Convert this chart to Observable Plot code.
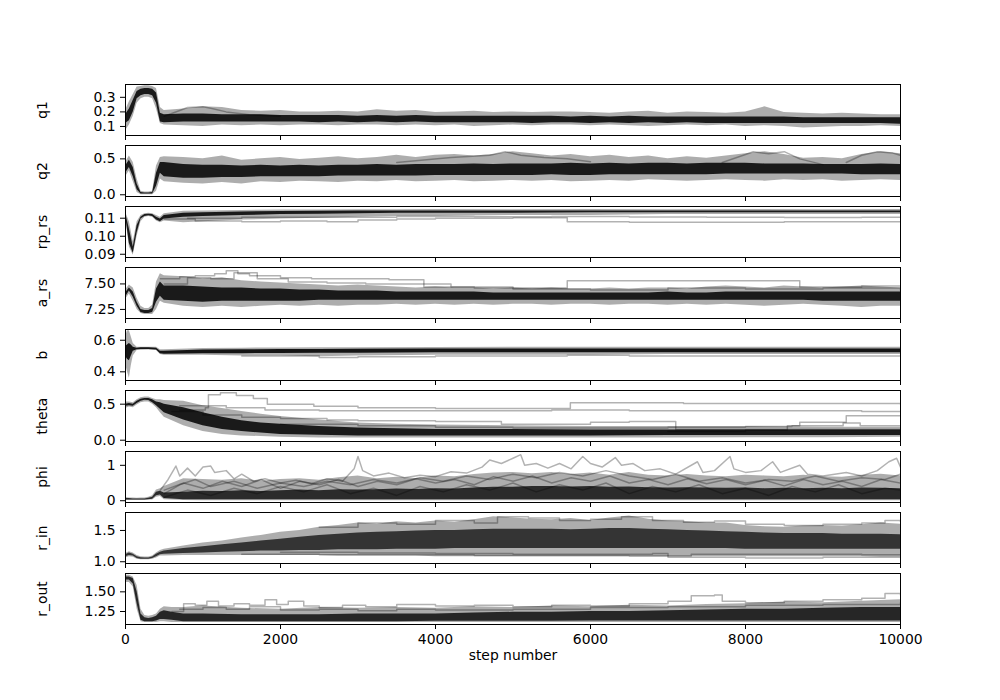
<!DOCTYPE html>
<html>
<head>
<meta charset="utf-8">
<script src="https://cdn.jsdelivr.net/npm/d3@7"></script>
<script src="https://cdn.jsdelivr.net/npm/@observablehq/plot@0.6"></script>
<style>
  html, body { margin: 0; padding: 0; background: #fff; }
  #chart { position: relative; width: 1000px; height: 700px; overflow: hidden; background: #fff; }
  #chart svg { position: absolute; left: 0; }
</style>
</head>
<body>
<div id="chart"></div>
<script>
// ---------------- data ----------------
const X_TICKS = [0, 2000, 4000, 6000, 8000, 10000];
const PARAMS = ["q1", "q2", "rp_rs", "a_rs", "b", "theta", "phi", "r_in", "r_out"];
const Y_DOMAINS = [[0.038, 0.388], [-0.024, 0.686], [0.0882, 0.1165], [7.161, 7.661], [0.345, 0.668],
                   [-0.018, 0.69], [-0.05, 1.39], [0.972, 1.787], [1.085, 1.733]];
const Y_TICKS = [[0.1, 0.2, 0.3], [0, 0.5], [0.09, 0.10, 0.11], [7.25, 7.5], [0.4, 0.6],
                 [0, 0.5], [0, 1], [1.0, 1.5], [1.25, 1.5]];
const Y_TICK_LABELS = [["0.1", "0.2", "0.3"], ["0.0", "0.5"], ["0.09", "0.10", "0.11"], ["7.25", "7.50"],
                       ["0.4", "0.6"], ["0.0", "0.5"], ["0", "1"], ["1.0", "1.5"], ["1.25", "1.50"]];

// walker envelopes: [step, outer low, dense low, dense high, outer high]
const q1Band = [
[0,0.07,0.12,0.18,0.21],[50,0.11,0.14,0.22,0.27],[100,0.17,0.20,0.28,0.32],[150,0.26,0.29,0.34,0.37],
[200,0.29,0.31,0.355,0.375],[250,0.30,0.32,0.36,0.38],[300,0.30,0.32,0.36,0.38],[350,0.29,0.31,0.355,0.375],
[400,0.22,0.26,0.33,0.36],[450,0.12,0.13,0.19,0.23],[500,0.11,0.125,0.18,0.21],[750,0.105,0.13,0.185,0.22],
[1000,0.10,0.13,0.185,0.235],[1250,0.11,0.13,0.18,0.23],[1500,0.105,0.13,0.18,0.21],[1750,0.11,0.13,0.18,0.205],
[2000,0.105,0.13,0.175,0.21],[2250,0.11,0.13,0.175,0.20],[2500,0.11,0.125,0.175,0.20],[2750,0.105,0.13,0.175,0.205],
[3000,0.11,0.125,0.17,0.20],[3250,0.11,0.13,0.175,0.215],[3500,0.105,0.125,0.17,0.205],[3750,0.11,0.13,0.175,0.21],
[4000,0.105,0.125,0.17,0.195],[4250,0.11,0.125,0.17,0.20],[4500,0.10,0.125,0.17,0.205],[4750,0.105,0.125,0.17,0.195],
[5000,0.11,0.125,0.17,0.20],[5250,0.105,0.12,0.17,0.195],[5500,0.11,0.125,0.17,0.20],[5750,0.11,0.125,0.165,0.20],
[6000,0.105,0.12,0.17,0.195],[6250,0.11,0.125,0.165,0.19],[6500,0.105,0.12,0.17,0.20],[6750,0.10,0.125,0.165,0.205],
[7000,0.105,0.12,0.165,0.19],[7250,0.11,0.125,0.165,0.20],[7500,0.105,0.12,0.165,0.195],[7750,0.11,0.12,0.165,0.19],
[8000,0.10,0.12,0.165,0.20],[8250,0.105,0.12,0.165,0.235],[8500,0.10,0.12,0.165,0.195],[8750,0.09,0.12,0.16,0.19],
[9000,0.095,0.12,0.16,0.185],[9250,0.10,0.12,0.16,0.19],[9500,0.10,0.12,0.16,0.185],[9750,0.105,0.12,0.16,0.18],
[10000,0.10,0.115,0.16,0.18]];
const q2Band = [
[0,0.25,0.30,0.40,0.45],[50,0.33,0.38,0.48,0.54],[100,0.18,0.25,0.38,0.45],[150,0.03,0.07,0.15,0.22],
[200,0.0,0.01,0.03,0.05],[250,0.0,0.01,0.025,0.04],[300,0.0,0.01,0.025,0.04],[350,0.0,0.01,0.03,0.05],
[400,0.05,0.12,0.30,0.40],[450,0.22,0.30,0.45,0.52],[500,0.18,0.25,0.45,0.53],[750,0.16,0.23,0.42,0.52],
[1000,0.15,0.23,0.41,0.50],[1250,0.17,0.24,0.41,0.54],[1500,0.15,0.24,0.40,0.48],[1750,0.18,0.25,0.41,0.50],
[2000,0.17,0.25,0.40,0.52],[2250,0.19,0.25,0.41,0.49],[2500,0.18,0.25,0.40,0.51],[2750,0.17,0.26,0.41,0.53],
[3000,0.19,0.26,0.41,0.50],[3250,0.18,0.26,0.42,0.52],[3500,0.20,0.26,0.41,0.55],[3750,0.18,0.26,0.42,0.52],
[4000,0.19,0.27,0.42,0.55],[4250,0.20,0.27,0.42,0.56],[4500,0.18,0.27,0.43,0.54],[4750,0.19,0.27,0.42,0.56],
[5000,0.20,0.27,0.43,0.60],[5250,0.19,0.27,0.43,0.57],[5500,0.20,0.28,0.43,0.54],[5750,0.18,0.27,0.44,0.56],
[6000,0.19,0.27,0.43,0.53],[6250,0.20,0.28,0.44,0.55],[6500,0.19,0.28,0.43,0.52],[6750,0.21,0.28,0.44,0.54],
[7000,0.20,0.28,0.44,0.50],[7250,0.19,0.28,0.43,0.53],[7500,0.20,0.28,0.44,0.51],[7750,0.21,0.29,0.44,0.54],
[8000,0.20,0.29,0.44,0.57],[8250,0.19,0.29,0.43,0.60],[8500,0.21,0.29,0.43,0.56],[8750,0.20,0.29,0.43,0.51],
[9000,0.21,0.29,0.42,0.52],[9250,0.19,0.29,0.42,0.50],[9500,0.20,0.28,0.42,0.56],[9750,0.21,0.28,0.43,0.60],
[10000,0.20,0.28,0.42,0.57]];
const rpBand = [
[0,0.111,0.1115,0.113,0.1135],[50,0.094,0.096,0.104,0.108],[100,0.0895,0.0905,0.094,0.097],[150,0.100,0.102,0.106,0.108],
[200,0.108,0.1095,0.1105,0.1115],[250,0.1105,0.111,0.112,0.1125],[300,0.111,0.1113,0.1122,0.1128],[350,0.1105,0.111,0.112,0.1125],
[400,0.1085,0.109,0.1105,0.1115],[450,0.1075,0.108,0.1095,0.1105],[500,0.1085,0.1095,0.1115,0.1125],[750,0.1075,0.1105,0.1128,0.1138],
[1000,0.108,0.111,0.113,0.114],[1500,0.109,0.1115,0.1135,0.1143],[2000,0.1095,0.112,0.1137,0.1145],[2500,0.110,0.1122,0.1138,0.1146],
[3000,0.1105,0.1125,0.114,0.1147],[3500,0.111,0.1127,0.114,0.1147],[4000,0.111,0.1128,0.114,0.1148],[5000,0.1115,0.1128,0.114,0.1147],
[6000,0.1115,0.113,0.114,0.1148],[7000,0.112,0.113,0.114,0.1147],[8000,0.112,0.113,0.114,0.1148],[9000,0.112,0.113,0.114,0.1147],
[10000,0.112,0.113,0.114,0.1148]];
const aBand = [
[0,7.35,7.37,7.41,7.44],[50,7.40,7.43,7.46,7.49],[100,7.33,7.37,7.42,7.46],[150,7.25,7.28,7.32,7.36],
[200,7.21,7.22,7.25,7.28],[250,7.20,7.21,7.24,7.26],[300,7.20,7.21,7.24,7.26],[350,7.20,7.22,7.26,7.29],
[400,7.25,7.32,7.45,7.52],[450,7.33,7.38,7.52,7.60],[500,7.31,7.34,7.48,7.58],[750,7.28,7.33,7.48,7.57],
[1000,7.27,7.32,7.47,7.55],[1250,7.28,7.33,7.46,7.56],[1500,7.27,7.33,7.46,7.53],[1750,7.28,7.33,7.45,7.52],
[2000,7.29,7.33,7.45,7.51],[2250,7.28,7.33,7.44,7.50],[2500,7.29,7.34,7.44,7.49],[2750,7.28,7.34,7.43,7.48],
[3000,7.29,7.34,7.43,7.49],[3250,7.29,7.34,7.43,7.48],[3500,7.30,7.34,7.42,7.47],[3750,7.29,7.34,7.42,7.46],
[4000,7.30,7.34,7.42,7.47],[4250,7.29,7.34,7.42,7.46],[4500,7.30,7.34,7.42,7.46],[4750,7.29,7.34,7.41,7.45],
[5000,7.30,7.34,7.41,7.46],[5250,7.30,7.34,7.41,7.45],[5500,7.29,7.34,7.41,7.46],[5750,7.30,7.34,7.41,7.45],
[6000,7.30,7.34,7.41,7.45],[6250,7.29,7.34,7.41,7.46],[6500,7.30,7.34,7.41,7.45],[6750,7.30,7.34,7.41,7.46],
[7000,7.29,7.34,7.42,7.46],[7250,7.30,7.34,7.41,7.45],[7500,7.29,7.34,7.41,7.47],[7750,7.30,7.34,7.42,7.48],
[8000,7.29,7.34,7.42,7.47],[8250,7.28,7.34,7.42,7.46],[8500,7.29,7.34,7.42,7.48],[8750,7.30,7.34,7.42,7.47],
[9000,7.29,7.33,7.42,7.46],[9250,7.28,7.33,7.42,7.47],[9500,7.27,7.33,7.42,7.48],[9750,7.28,7.33,7.42,7.47],
[10000,7.28,7.33,7.42,7.46]];
const bBand = [
[0,0.45,0.50,0.56,0.62],[25,0.40,0.48,0.57,0.66],[50,0.36,0.47,0.58,0.66],[75,0.44,0.50,0.57,0.62],
[100,0.50,0.53,0.555,0.58],[150,0.535,0.540,0.550,0.556],[200,0.537,0.542,0.552,0.556],[300,0.538,0.542,0.552,0.556],
[400,0.535,0.538,0.550,0.555],[450,0.51,0.515,0.53,0.54],[500,0.505,0.512,0.53,0.54],[1000,0.505,0.515,0.538,0.548],
[1500,0.50,0.515,0.54,0.55],[2000,0.50,0.516,0.541,0.551],[2500,0.495,0.517,0.542,0.552],[3000,0.50,0.518,0.543,0.553],
[4000,0.505,0.52,0.544,0.554],[5000,0.505,0.52,0.545,0.555],[6000,0.505,0.52,0.545,0.555],[7000,0.51,0.52,0.545,0.555],
[8000,0.51,0.52,0.545,0.555],[9000,0.51,0.52,0.545,0.555],[10000,0.51,0.52,0.545,0.555]];
const thetaBand = [
[0,0.44,0.47,0.50,0.53],[50,0.46,0.48,0.51,0.53],[100,0.45,0.47,0.50,0.52],[150,0.49,0.51,0.54,0.56],
[200,0.52,0.54,0.57,0.59],[250,0.53,0.555,0.58,0.60],[300,0.53,0.55,0.58,0.60],[350,0.50,0.52,0.56,0.58],
[400,0.45,0.48,0.53,0.56],[450,0.38,0.43,0.52,0.56],[500,0.32,0.38,0.50,0.55],[750,0.20,0.28,0.45,0.54],
[1000,0.12,0.20,0.38,0.48],[1250,0.08,0.15,0.32,0.44],[1500,0.06,0.12,0.27,0.40],[1750,0.05,0.10,0.24,0.36],
[2000,0.04,0.08,0.22,0.33],[2500,0.03,0.07,0.19,0.28],[3000,0.03,0.06,0.17,0.24],[3500,0.03,0.06,0.16,0.22],
[4000,0.03,0.06,0.15,0.21],[5000,0.03,0.06,0.15,0.20],[6000,0.03,0.06,0.14,0.19],[7000,0.03,0.065,0.14,0.19],
[8000,0.035,0.065,0.14,0.19],[9000,0.035,0.065,0.14,0.18],[10000,0.04,0.065,0.14,0.18]];
const phiBand = [
[0,0.01,0.02,0.06,0.09],[50,0.01,0.02,0.06,0.08],[100,0.01,0.02,0.05,0.08],[150,0.01,0.02,0.05,0.07],
[200,0.01,0.02,0.05,0.08],[250,0.01,0.02,0.05,0.08],[300,0.02,0.03,0.07,0.10],[350,0.02,0.04,0.10,0.14],
[400,0.10,0.14,0.24,0.30],[450,0.12,0.16,0.27,0.34],[500,0.03,0.06,0.22,0.40],[750,0.01,0.03,0.24,0.62],
[1000,0.0,0.03,0.27,0.60],[1250,0.0,0.03,0.26,0.58],[1500,0.0,0.03,0.28,0.62],[1750,0.0,0.03,0.26,0.55],
[2000,0.0,0.03,0.28,0.60],[2250,0.0,0.03,0.30,0.62],[2500,0.0,0.03,0.28,0.58],[2750,0.0,0.03,0.31,0.65],
[3000,0.0,0.03,0.30,0.70],[3250,0.0,0.03,0.31,0.62],[3500,0.0,0.03,0.33,0.66],[3750,0.0,0.03,0.32,0.63],
[4000,0.0,0.03,0.34,0.70],[4250,0.0,0.03,0.33,0.68],[4500,0.0,0.03,0.36,0.74],[4750,0.0,0.03,0.38,0.78],
[5000,0.0,0.03,0.38,0.80],[5250,0.0,0.03,0.40,0.76],[5500,0.0,0.03,0.40,0.80],[5750,0.0,0.03,0.39,0.74],
[6000,0.0,0.03,0.40,0.78],[6250,0.0,0.03,0.38,0.72],[6500,0.0,0.03,0.39,0.80],[6750,0.0,0.03,0.37,0.72],
[7000,0.0,0.03,0.36,0.70],[7250,0.0,0.03,0.37,0.74],[7500,0.0,0.03,0.36,0.70],[7750,0.0,0.03,0.35,0.68],
[8000,0.0,0.03,0.36,0.72],[8250,0.0,0.03,0.34,0.70],[8500,0.0,0.03,0.35,0.68],[8750,0.0,0.03,0.34,0.72],
[9000,0.0,0.03,0.35,0.68],[9250,0.0,0.03,0.34,0.66],[9500,0.0,0.03,0.36,0.72],[9750,0.0,0.03,0.35,0.75],
[10000,0.0,0.03,0.34,0.70]];
const rinBand = [
[0,1.06,1.08,1.11,1.13],[50,1.08,1.10,1.14,1.16],[100,1.07,1.09,1.12,1.14],[150,1.04,1.05,1.08,1.10],
[200,1.03,1.04,1.065,1.08],[250,1.03,1.04,1.06,1.075],[300,1.03,1.04,1.06,1.075],[350,1.04,1.05,1.075,1.09],
[400,1.06,1.08,1.12,1.14],[450,1.09,1.11,1.15,1.18],[500,1.09,1.12,1.17,1.20],[750,1.10,1.13,1.21,1.25],
[1000,1.10,1.14,1.24,1.30],[1250,1.10,1.15,1.27,1.33],[1500,1.10,1.16,1.30,1.38],[1750,1.10,1.17,1.33,1.42],
[2000,1.10,1.17,1.36,1.47],[2250,1.10,1.18,1.39,1.50],[2500,1.10,1.18,1.42,1.55],[2750,1.09,1.19,1.44,1.58],
[3000,1.09,1.19,1.46,1.62],[3250,1.09,1.19,1.47,1.60],[3500,1.09,1.20,1.48,1.64],[3750,1.09,1.20,1.49,1.62],
[4000,1.08,1.20,1.50,1.65],[4250,1.08,1.21,1.50,1.63],[4500,1.08,1.21,1.51,1.67],[4750,1.08,1.21,1.52,1.72],
[5000,1.08,1.21,1.52,1.70],[5250,1.08,1.21,1.52,1.68],[5500,1.08,1.21,1.52,1.67],[5750,1.08,1.21,1.51,1.69],
[6000,1.08,1.21,1.52,1.66],[6250,1.08,1.21,1.53,1.70],[6500,1.08,1.21,1.53,1.73],[6750,1.08,1.21,1.52,1.68],
[7000,1.08,1.21,1.51,1.65],[7250,1.08,1.21,1.50,1.64],[7500,1.08,1.21,1.49,1.62],[7750,1.08,1.21,1.48,1.62],
[8000,1.08,1.20,1.47,1.58],[8250,1.08,1.20,1.46,1.56],[8500,1.08,1.20,1.45,1.55],[8750,1.08,1.20,1.45,1.57],
[9000,1.08,1.20,1.45,1.58],[9250,1.08,1.20,1.44,1.57],[9500,1.08,1.20,1.44,1.59],[9750,1.07,1.20,1.44,1.62],
[10000,1.07,1.20,1.43,1.60]];
const routBand = [
[0,1.62,1.65,1.69,1.71],[50,1.62,1.65,1.69,1.71],[100,1.56,1.60,1.67,1.69],[150,1.28,1.35,1.50,1.58],
[200,1.12,1.14,1.22,1.28],[250,1.11,1.12,1.17,1.20],[300,1.11,1.12,1.16,1.19],[350,1.11,1.12,1.17,1.20],
[400,1.11,1.13,1.19,1.22],[450,1.12,1.15,1.24,1.28],[500,1.12,1.15,1.26,1.31],[600,1.11,1.14,1.24,1.30],
[750,1.11,1.12,1.22,1.30],[1000,1.11,1.12,1.22,1.32],[1500,1.11,1.12,1.21,1.29],[2000,1.11,1.12,1.21,1.28],
[2500,1.11,1.12,1.21,1.30],[3000,1.11,1.12,1.22,1.29],[3500,1.11,1.12,1.22,1.30],[4000,1.11,1.125,1.22,1.29],
[4500,1.11,1.125,1.23,1.31],[5000,1.11,1.125,1.24,1.30],[5500,1.11,1.125,1.24,1.32],[6000,1.11,1.13,1.25,1.31],
[6500,1.11,1.13,1.25,1.33],[7000,1.11,1.13,1.26,1.32],[7500,1.11,1.13,1.27,1.34],[8000,1.11,1.13,1.28,1.35],
[8500,1.11,1.13,1.28,1.37],[9000,1.11,1.13,1.29,1.36],[9500,1.11,1.13,1.30,1.38],[10000,1.11,1.13,1.30,1.40]];

// individual (outlying) walkers: [step, value]
const q1Walkers = [
  [[500,0.17],[700,0.21],[800,0.23],[1000,0.235],[1100,0.225],[1300,0.20],[1600,0.18],[2000,0.17]]
];
const q2Walkers = [
  [[3500,0.45],[4200,0.52],[4700,0.55],[4900,0.60],[5100,0.55],[5400,0.52],[5700,0.50],[6000,0.46]],
  [[7700,0.45],[8000,0.56],[8100,0.60],[8300,0.57],[8500,0.60],[8700,0.50],[9000,0.42]],
  [[9300,0.45],[9500,0.55],[9700,0.60],[9900,0.58],[10000,0.55]]
];
const rpWalkers = [
  [[500,0.1095],[900,0.1085],[1500,0.108],[2000,0.1085],[2600,0.108],[3000,0.109],[3500,0.1095],[4000,0.110],
   [5000,0.1103],[5650,0.1103],[5700,0.108],[6500,0.1078],[7500,0.1078],[8500,0.108],[10000,0.108]],
  [[800,0.110],[1500,0.1105],[2500,0.1105],[3500,0.111],[4500,0.1108],[5500,0.111],[6500,0.1107],[7500,0.1105],
   [8500,0.1104],[9500,0.1105],[10000,0.1105]]
];
const aWalkers = [
  [[450,7.55],[700,7.57],[900,7.58],[1150,7.60],[1300,7.63],[1450,7.60],[1600,7.58],[2000,7.56],[2400,7.55],
   [2700,7.55],[3000,7.55],[3400,7.54],[3850,7.47],[4500,7.46],[5000,7.46],[5700,7.53],[6500,7.53],[7500,7.53],
   [8700,7.47],[9500,7.48],[10000,7.48]],
  [[500,7.50],[800,7.56],[1100,7.55],[1400,7.61],[1700,7.55],[2100,7.52],[2600,7.51],[3100,7.50],[3600,7.50],
   [4200,7.47],[5000,7.45],[6000,7.44],[7000,7.46],[8000,7.45],[9000,7.46],[10000,7.44]]
];
const bWalkers = [
  [[1500,0.50],[2500,0.49],[3000,0.495],[4000,0.50],[5700,0.505],[6500,0.50],[8000,0.50],[10000,0.505]]
];
const thetaWalkers = [
  [[700,0.42],[1030,0.45],[1070,0.63],[1225,0.66],[1430,0.62],[1650,0.58],[1830,0.50],[2430,0.47],[3000,0.45],
   [4000,0.44],[5000,0.44],[5740,0.52],[7000,0.52],[7200,0.51],[8000,0.51],[9000,0.51],[10000,0.50]],
  [[700,0.48],[1300,0.45],[1800,0.42],[2500,0.41],[3500,0.41],[4500,0.41],[5500,0.42],[6500,0.41],[7500,0.41],
   [8500,0.41],[9500,0.40],[10000,0.40]],
  [[600,0.40],[1000,0.35],[1500,0.32],[2000,0.30],[2600,0.28],[3000,0.27],[4000,0.26],[4700,0.26],[4850,0.22],
   [5500,0.22],[6000,0.25],[6500,0.26],[6940,0.26],[7100,0.15],[10000,0.14]],
  [[7000,0.12],[8000,0.14],[8540,0.20],[8700,0.25],[9140,0.25],[9300,0.34],[10000,0.34]],
  [[2000,0.22],[3000,0.20],[4000,0.18],[5000,0.17],[6000,0.17],[7000,0.18],[8000,0.19],[8600,0.20],[9260,0.24],
   [9480,0.20],[10000,0.20]]
];
const phiWalkers = [
  [[450,0.3],[550,0.6],[650,0.98],[700,0.7],[800,0.92],[900,0.7],[1000,0.95],[1100,0.98],[1150,0.8],[1300,0.85],
   [1400,0.62],[1500,0.75],[1650,0.55],[1800,0.62],[2000,0.50],[2200,0.58],[2400,0.48],[2600,0.62],[2800,0.55],
   [2950,0.9],[3000,1.25],[3060,0.85],[3200,0.7],[3400,0.78],[3600,0.65],[3800,0.72],[4000,0.68],[4200,0.82],
   [4400,0.78],[4600,0.95],[4700,1.15],[4850,1.05],[5000,1.2],[5100,1.3],[5150,1.0],[5300,1.05],[5450,0.92],
   [5600,1.05],[5750,0.9],[5900,1.25],[6000,1.05],[6150,0.95],[6320,1.22],[6400,1.0],[6550,1.05],[6700,0.85],
   [6900,0.9],[7100,0.75],[7380,1.1],[7450,0.8],[7600,0.85],[7800,1.25],[7850,0.9],[8000,0.8],[8200,0.85],
   [8350,1.1],[8450,0.8],[8700,1.0],[8800,0.75],[9000,0.7],[9300,0.8],[9500,0.7],[9700,0.85],[9850,1.1],
   [9950,1.2],[10000,0.95]],
  [[500,0.2],[700,0.45],[900,0.6],[1100,0.4],[1400,0.55],[1700,0.35],[2000,0.5],[2300,0.4],[2600,0.55],[2900,0.45],
   [3200,0.6],[3500,0.5],[3800,0.65],[4100,0.55],[4400,0.7],[4700,0.6],[5000,0.75],[5300,0.65],[5600,0.8],
   [5900,0.7],[6200,0.85],[6500,0.7],[6800,0.6],[7100,0.75],[7400,0.55],[7700,0.65],[8000,0.5],[8300,0.6],
   [8600,0.55],[8900,0.7],[9200,0.55],[9500,0.65],[9800,0.6],[10000,0.75]],
  [[500,0.1],[800,0.3],[1100,0.15],[1400,0.35],[1700,0.2],[2000,0.4],[2300,0.25],[2600,0.45],[2900,0.2],
   [3200,0.35],[3500,0.15],[3800,0.4],[4100,0.25],[4400,0.45],[4700,0.3],[5000,0.5],[5300,0.25],[5600,0.45],
   [5900,0.3],[6200,0.5],[6500,0.2],[6800,0.4],[7100,0.25],[7400,0.45],[7700,0.2],[8000,0.35],[8300,0.15],
   [8600,0.4],[8900,0.25],[9200,0.45],[9500,0.2],[9800,0.35],[10000,0.3]],
  [[500,0.3],[750,0.5],[1000,0.35],[1250,0.55],[1500,0.4],[1750,0.6],[2000,0.35],[2250,0.55],[2500,0.45],
   [2750,0.6],[3000,0.4],[3250,0.55],[3500,0.45],[3750,0.62],[4000,0.5],[4250,0.6],[4500,0.45],[4750,0.68],
   [5000,0.55],[5250,0.7],[5500,0.5],[5750,0.65],[6000,0.55],[6250,0.7],[6500,0.5],[6750,0.6],[7000,0.45],
   [7250,0.62],[7500,0.48],[7750,0.6],[8000,0.45],[8250,0.58],[8500,0.42],[8750,0.6],[9000,0.45],[9250,0.55],
   [9500,0.4],[9750,0.6],[10000,0.5]]
];
const rinWalkers = [
  [[1500,1.12],[2500,1.11],[3500,1.11],[4500,1.10],[5500,1.10],[6500,1.09],[7250,1.09],[7300,1.12],[8500,1.12],
   [9500,1.11],[10000,1.11]],
  [[2000,1.15],[3000,1.14],[4000,1.13],[5000,1.12],[6000,1.12],[6800,1.13],[7000,1.07],[8000,1.06],[9000,1.07],
   [10000,1.06]],
  [[2500,1.55],[3000,1.62],[3500,1.60],[4000,1.66],[4500,1.62],[4800,1.72],[5200,1.70],[5600,1.66],[6000,1.68],
   [6400,1.72],[6800,1.66],[7200,1.63],[7600,1.65],[8000,1.60],[8500,1.58],[9000,1.60],[9500,1.62],[9800,1.66],
   [10000,1.64]]
];
const routWalkers = [
  [[600,1.25],[750,1.35],[900,1.33],[1050,1.38],[1200,1.32],[1400,1.35],[1600,1.33],[1800,1.40],[1950,1.34],
   [2100,1.38],[2300,1.32],[2500,1.30],[2800,1.33],[3100,1.31],[3500,1.34],[4000,1.32],[4500,1.33],[5000,1.31],
   [5500,1.33],[6000,1.32],[6500,1.35],[7000,1.38],[7300,1.45],[7600,1.46],[7700,1.38],[8000,1.36],[8500,1.38],
   [9000,1.40],[9500,1.42],[9800,1.48],[10000,1.46]],
  [[700,1.28],[1000,1.30],[1300,1.28],[1600,1.31],[2000,1.27],[2500,1.28],[3000,1.26],[3500,1.28],[4000,1.27],
   [5000,1.28],[6000,1.30],[7000,1.31],[8000,1.33],[9000,1.34],[10000,1.36]]
];

const BANDS = [q1Band, q2Band, rpBand, aBand, bBand, thetaBand, phiBand, rinBand, routBand];
const WALKERS = [q1Walkers, q2Walkers, rpWalkers, aWalkers, bWalkers, thetaWalkers, phiWalkers, rinWalkers, routWalkers];

// ---------------- rendering ----------------
const CORE_OPACITY = [0.85, 0.85, 0.85, 0.85, 0.88, 0.85, 0.75, 0.7, 0.78];
const WALKER_CURVE = ["linear", "linear", "step-after", "step-after", "step-after", "step-after", "linear", "step-after", "step-after"];
const PANEL_H = 51, MT = 6;
const chart = document.getElementById("chart");

PARAMS.forEach((name, i) => {
  const last = i === PARAMS.length - 1;
  const MB = last ? 70 : 20;
  const band = BANDS[i];
  const ticks = Y_TICKS[i];
  const labels = Y_TICK_LABELS[i];
  const marks = [
    Plot.areaY(band, {x: d => d[0], y1: d => d[1], y2: d => d[4], fill: "#000", fillOpacity: 0.32, clip: true}),
    Plot.areaY(band, {x: d => d[0], y1: d => d[2], y2: d => d[3], fill: "#000", fillOpacity: CORE_OPACITY[i], clip: true}),
    ...WALKERS[i].map(w => Plot.line(w, {x: d => d[0], y: d => d[1], stroke: "#000", strokeOpacity: 0.3,
                                         strokeWidth: 1.5, curve: WALKER_CURVE[i], clip: true})),
    Plot.frame({stroke: "#000", strokeWidth: 1}),
    Plot.axisY({ticks, tickFormat: d => labels[ticks.indexOf(d)], tickSize: 5, tickPadding: 5, label: null}),
    Plot.axisX({ticks: X_TICKS, tickFormat: last ? (d => String(d)) : (() => ""), tickSize: 5, tickPadding: 5, label: null}),
    Plot.text([name], {frameAnchor: "left", dx: -83, rotate: -90, text: d => d, textAnchor: "middle", fill: "#000"})
  ];
  if (last) {
    marks.push(Plot.text(["step number"], {frameAnchor: "bottom", dy: 35, text: d => d, textAnchor: "middle", fill: "#000"}));
  }
  const svg = Plot.plot({
    width: 1000,
    height: MT + PANEL_H + MB,
    marginLeft: 125, marginRight: 100, marginTop: MT, marginBottom: MB,
    x: {domain: [0, 10000]},
    y: {domain: Y_DOMAINS[i]},
    style: {fontFamily: "DejaVu Sans", fontSize: "13.9px", background: "transparent", color: "#000", overflow: "visible"},
    marks
  });
  const top = Math.round(84.3 + i * 61.05) - MT;
  svg.style.top = top + "px";
  svg.style.position = "absolute";
  svg.style.left = "0px";
  chart.appendChild(svg);
});
</script>
</body>
</html>
